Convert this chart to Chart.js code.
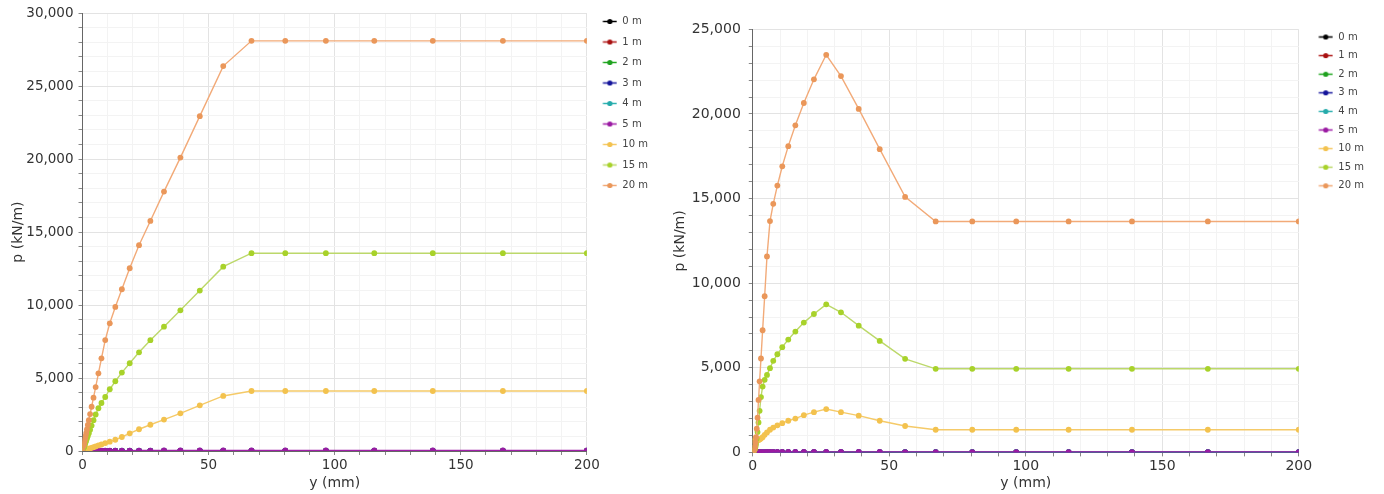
<!DOCTYPE html>
<html>
<head>
<meta charset="utf-8">
<title>p-y curves</title>
<script src="https://cdn.jsdelivr.net/npm/chart.js@4.4.1/dist/chart.umd.min.js"></script>
<style>
    html, body { margin: 0; padding: 0; background: #fff; }
    body { width: 1384px; height: 494px; position: relative; overflow: hidden; }
    .chart-box { position: absolute; }
    #leftBox { left: 0; top: 0; width: 658px; height: 494px; }
    #rightBox { left: 670px; top: 13px; width: 704px; height: 481px; }
</style>
</head>
<body>
<div class="chart-box" id="leftBox"><canvas id="leftChart"></canvas></div>
<div class="chart-box" id="rightBox"><canvas id="rightChart"></canvas></div>
<script>
// Displacement y (mm), shared by every curve
const yMm = [0, 0.4, 0.5, 0.6, 0.7, 0.84, 1.0, 1.2, 1.45, 1.75, 2.1, 2.5, 3.0, 3.6, 4.35, 5.2, 6.3, 7.5, 9.0, 10.8,
    13.0, 15.6, 18.7, 22.4, 26.9, 32.3, 38.8, 46.5, 55.8, 67.0, 80.4, 96.5, 115.7, 138.9, 166.7, 200];

const seriesNames = ['0 m', '1 m', '2 m', '3 m', '4 m', '5 m', '10 m', '15 m', '20 m'];
const lineColors = ['#000000', '#b01818', '#22a822', '#1c1ca0', '#2fb2b2', '#a020a8', '#f5ca68', '#bcd86a', '#f2aa78'];
const pointColors = ['#000000', '#a81010', '#1fa01f', '#14149a', '#25aaaa', '#9a1aa2', '#f3c24e', '#a8d22a', '#ea975a'];

// Left chart: p (kN/m) per depth
const left0m = [0, 0, 0, 0, 0, 0, 0, 0, 0, 0, 0, 0, 0, 0, 0, 0, 0, 0, 0, 0,
    0, 0, 0, 0, 0, 0, 0, 0, 0, 0, 0, 0, 0, 0, 0, 0];
const left1m = [0, 0, 0, 0, 0, 0, 0, 0, 0, 1, 1, 1, 1, 1, 1, 1, 2, 2, 2, 2,
    2, 2, 3, 3, 3, 3, 3, 3, 3, 3, 3, 3, 3, 3, 3, 3];
const left2m = [0, 0, 0, 1, 1, 1, 1, 1, 1, 2, 2, 2, 2, 3, 3, 3, 4, 4, 5, 5,
    6, 6, 7, 7, 8, 8, 8, 8, 8, 8, 8, 8, 8, 8, 8, 8];
const left3m = [0, 1, 1, 1, 1, 1, 2, 2, 2, 3, 3, 4, 4, 5, 5, 6, 7, 8, 9, 10,
    11, 12, 13, 14, 15, 15, 15, 15, 15, 15, 15, 15, 15, 15, 15, 15];
const left4m = [0, 1, 1, 1, 1, 2, 2, 2, 3, 3, 4, 5, 6, 7, 8, 9, 10, 12, 13, 15,
    16, 18, 20, 22, 24, 25, 25, 25, 25, 25, 25, 25, 25, 25, 25, 25];
const left5m = [0, 1, 1, 2, 2, 2, 3, 3, 4, 5, 6, 7, 8, 9, 10, 12, 14, 16, 18, 20,
    22, 24, 27, 30, 32, 35, 37, 38, 39, 40, 40, 40, 40, 40, 40, 40];
const left10m = [0, 25, 31, 37, 44, 52, 62, 75, 90, 110, 130, 155, 185, 220, 265, 315, 380, 450, 540, 640,
    770, 960, 1210, 1490, 1800, 2150, 2580, 3130, 3770, 4110, 4110, 4110, 4110, 4110, 4110, 4110];
const left15m = [0, 200, 250, 300, 350, 420, 500, 600, 720, 860, 1030, 1220, 1450, 1740, 2110, 2500, 2930, 3290, 3700, 4230,
    4780, 5370, 6010, 6760, 7590, 8520, 9640, 10990, 12630, 13550, 13550, 13550, 13550, 13550, 13550, 13550];
const left20m = [0, 340, 425, 510, 595, 715, 850, 1020, 1230, 1480, 1780, 2110, 2530, 3030, 3650, 4380, 5320, 6350, 7600, 8750,
    9870, 11080, 12520, 14100, 15760, 17770, 20100, 22940, 26370, 28100, 28100, 28100, 28100, 28100, 28100, 28100];

// Right chart: p (kN/m) per depth
const right0m = [0, 0, 0, 0, 0, 0, 0, 0, 0, 0, 0, 0, 0, 0, 0, 0, 0, 0, 0, 0,
    0, 0, 0, 0, 0, 0, 0, 0, 0, 0, 0, 0, 0, 0, 0, 0];
const right1m = [0, 0, 0, 0, 0, 1, 1, 1, 1, 1, 1, 1, 1, 1, 1, 1, 1, 1, 1, 1,
    1, 1, 1, 1, 1, 1, 1, 1, 1, 1, 1, 1, 1, 1, 1, 1];
const right2m = [0, 1, 1, 1, 2, 2, 2, 3, 3, 3, 4, 4, 4, 4, 5, 5, 5, 5, 5, 5,
    5, 5, 5, 5, 5, 5, 4, 4, 4, 4, 4, 4, 4, 4, 4, 4];
const right3m = [0, 1, 2, 2, 3, 3, 4, 4, 5, 6, 6, 7, 8, 8, 9, 9, 10, 10, 10, 10,
    10, 10, 10, 10, 10, 9, 9, 8, 8, 8, 8, 8, 8, 8, 8, 8];
const right4m = [0, 2, 2, 3, 4, 4, 5, 6, 7, 8, 9, 10, 11, 12, 13, 14, 15, 16, 16, 17,
    17, 17, 17, 17, 17, 16, 15, 14, 13, 13, 13, 13, 13, 13, 13, 13];
const right5m = [0, 3, 4, 5, 6, 7, 8, 9, 11, 12, 14, 16, 18, 20, 22, 24, 25, 26, 27, 28,
    28, 28, 28, 28, 28, 27, 25, 23, 21, 20, 20, 20, 20, 20, 20, 20];
const right10m = [0, 300, 500, 650, 750, 820, 800, 760, 730, 720, 730, 760, 820, 900, 1040, 1180, 1340, 1470, 1600, 1730,
    1870, 2000, 2200, 2380, 2560, 2380, 2170, 1870, 1560, 1340, 1340, 1340, 1340, 1340, 1340, 1340];
const right15m = [0, 70, 100, 130, 180, 250, 350, 500, 800, 1200, 1770, 2460, 3270, 3890, 4290, 4580, 4980, 5410, 5800, 6220,
    6670, 7140, 7670, 8180, 8750, 8280, 7490, 6590, 5530, 4940, 4940, 4940, 4940, 4940, 4940, 4940];
const right20m = [0, 100, 150, 200, 300, 400, 600, 900, 1400, 2050, 3100, 4200, 5550, 7220, 9230, 11580, 13670, 14690, 15770, 16910,
    18100, 19330, 20650, 22050, 23500, 22240, 20300, 17920, 15100, 13650, 13650, 13650, 13650, 13650, 13650, 13650];

const leftSeries = [left0m, left1m, left2m, left3m, left4m, left5m, left10m, left15m, left20m];
const rightSeries = [right0m, right1m, right2m, right3m, right4m, right5m, right10m, right15m, right20m];

Chart.defaults.font.family = "'DejaVu Sans', Verdana, sans-serif";
Chart.defaults.color = '#333';

// Small "line with dot" icon for the legend
function makeIcon(lineColor, dotColor, width, lineStart) {
    const c = document.createElement('canvas');
    c.width = width;
    c.height = 7;
    const g = c.getContext('2d');
    g.strokeStyle = lineColor;
    g.lineWidth = 1.5;
    g.beginPath();
    g.moveTo(lineStart, 3.5);
    g.lineTo(lineStart + 14, 3.5);
    g.stroke();
    g.fillStyle = dotColor;
    g.beginPath();
    g.arc(lineStart + 7, 3.5, 2.6, 0, Math.PI * 2);
    g.fill();
    return c;
}

function gridColor(major) {
    return ctx => (ctx.tick && ctx.tick.value % major === 0) ? '#e3e3e3' : '#f3f3f3';
}

function buildChart(canvasId, series, yMax, look) {
    const icons = seriesNames.map((n, i) => makeIcon(lineColors[i], pointColors[i], look.boxWidth, look.lineStart));

    const datasets = seriesNames.map((name, i) => ({
        label: name,
        data: yMm.map((x, k) => ({ x: x, y: series[i][k] })),
        borderColor: lineColors[i],
        backgroundColor: pointColors[i],
        pointBackgroundColor: pointColors[i],
        pointBorderColor: pointColors[i],
        pointBorderWidth: 0,
        pointRadius: 2.9,
        borderWidth: 1.4,
        tension: 0,
        order: seriesNames.length - i   // later depths drawn on top
    }));

    return new Chart(document.getElementById(canvasId), {
        type: 'line',
        data: { datasets: datasets },
        options: {
            responsive: true,
            maintainAspectRatio: false,
            animation: false,
            layout: { padding: { left: look.padLeft, top: look.padTop, right: 0, bottom: look.padBottom } },
            plugins: {
                tooltip: { enabled: false },
                legend: {
                    position: 'right',
                    align: 'start',
                    // invisible title, only used to nudge the items down
                    title: { display: true, text: ' ', font: { size: 2 }, padding: { top: look.legendShift, bottom: 0 } },
                    labels: {
                        usePointStyle: true,
                        pointStyleWidth: look.boxWidth,
                        padding: look.legendPad,
                        color: '#444',
                        font: { size: 10 },
                        sort: (a, b) => a.datasetIndex - b.datasetIndex,
                        generateLabels: chart => {
                            const items = Chart.defaults.plugins.legend.labels.generateLabels(chart);
                            items.forEach(item => { item.pointStyle = icons[item.datasetIndex]; });
                            return items;
                        }
                    }
                }
            },
            scales: {
                x: {
                    type: 'linear',
                    min: 0,
                    max: 200,
                    ticks: {
                        stepSize: 10,
                        autoSkip: false,
                        maxRotation: 0,
                        padding: 2,
                        font: { size: look.tickSize },
                        color: '#333',
                        callback: v => v % 50 === 0 ? String(v) : ''
                    },
                    grid: { color: gridColor(50), tickColor: '#888', tickLength: 4 },
                    border: { color: '#666' },
                    title: { display: true, text: 'y (mm)', font: { size: 14 }, color: '#333', padding: { top: look.xTitleGap, bottom: 0 } }
                },
                y: {
                    min: 0,
                    max: yMax,
                    ticks: {
                        stepSize: 1000,
                        autoSkip: false,
                        padding: look.yTickPad,
                        font: { size: look.tickSize },
                        color: '#333',
                        callback: v => v % 5000 === 0 ? v.toLocaleString('en-US') : ''
                    },
                    grid: { color: gridColor(5000), tickColor: '#888', tickLength: 4 },
                    border: { color: '#666' },
                    title: { display: true, text: 'p (kN/m)', font: { size: 14 }, color: '#333', padding: { top: look.yTitleOut, bottom: look.yTitleGap } }
                }
            }
        }
    });
}

document.addEventListener('DOMContentLoaded', function() {
    buildChart('leftChart', leftSeries, 30000, {
        tickSize: 13.5, padLeft: 7.5, padTop: 3, padBottom: 2, legendPad: 10.5, boxWidth: 20, lineStart: 5.5,
        legendShift: 0.6, yTickPad: 5, yTitleOut: 2, yTitleGap: -5, xTitleGap: 0
    });
    buildChart('rightChart', rightSeries, 25000, {
        tickSize: 14, padLeft: 2, padTop: 2, padBottom: 2, legendPad: 8.6, boxWidth: 26, lineStart: 11.4,
        legendShift: 6, yTickPad: 8, yTitleOut: 0, yTitleGap: -5, xTitleGap: -2
    });
});
</script>
</body>
</html>
